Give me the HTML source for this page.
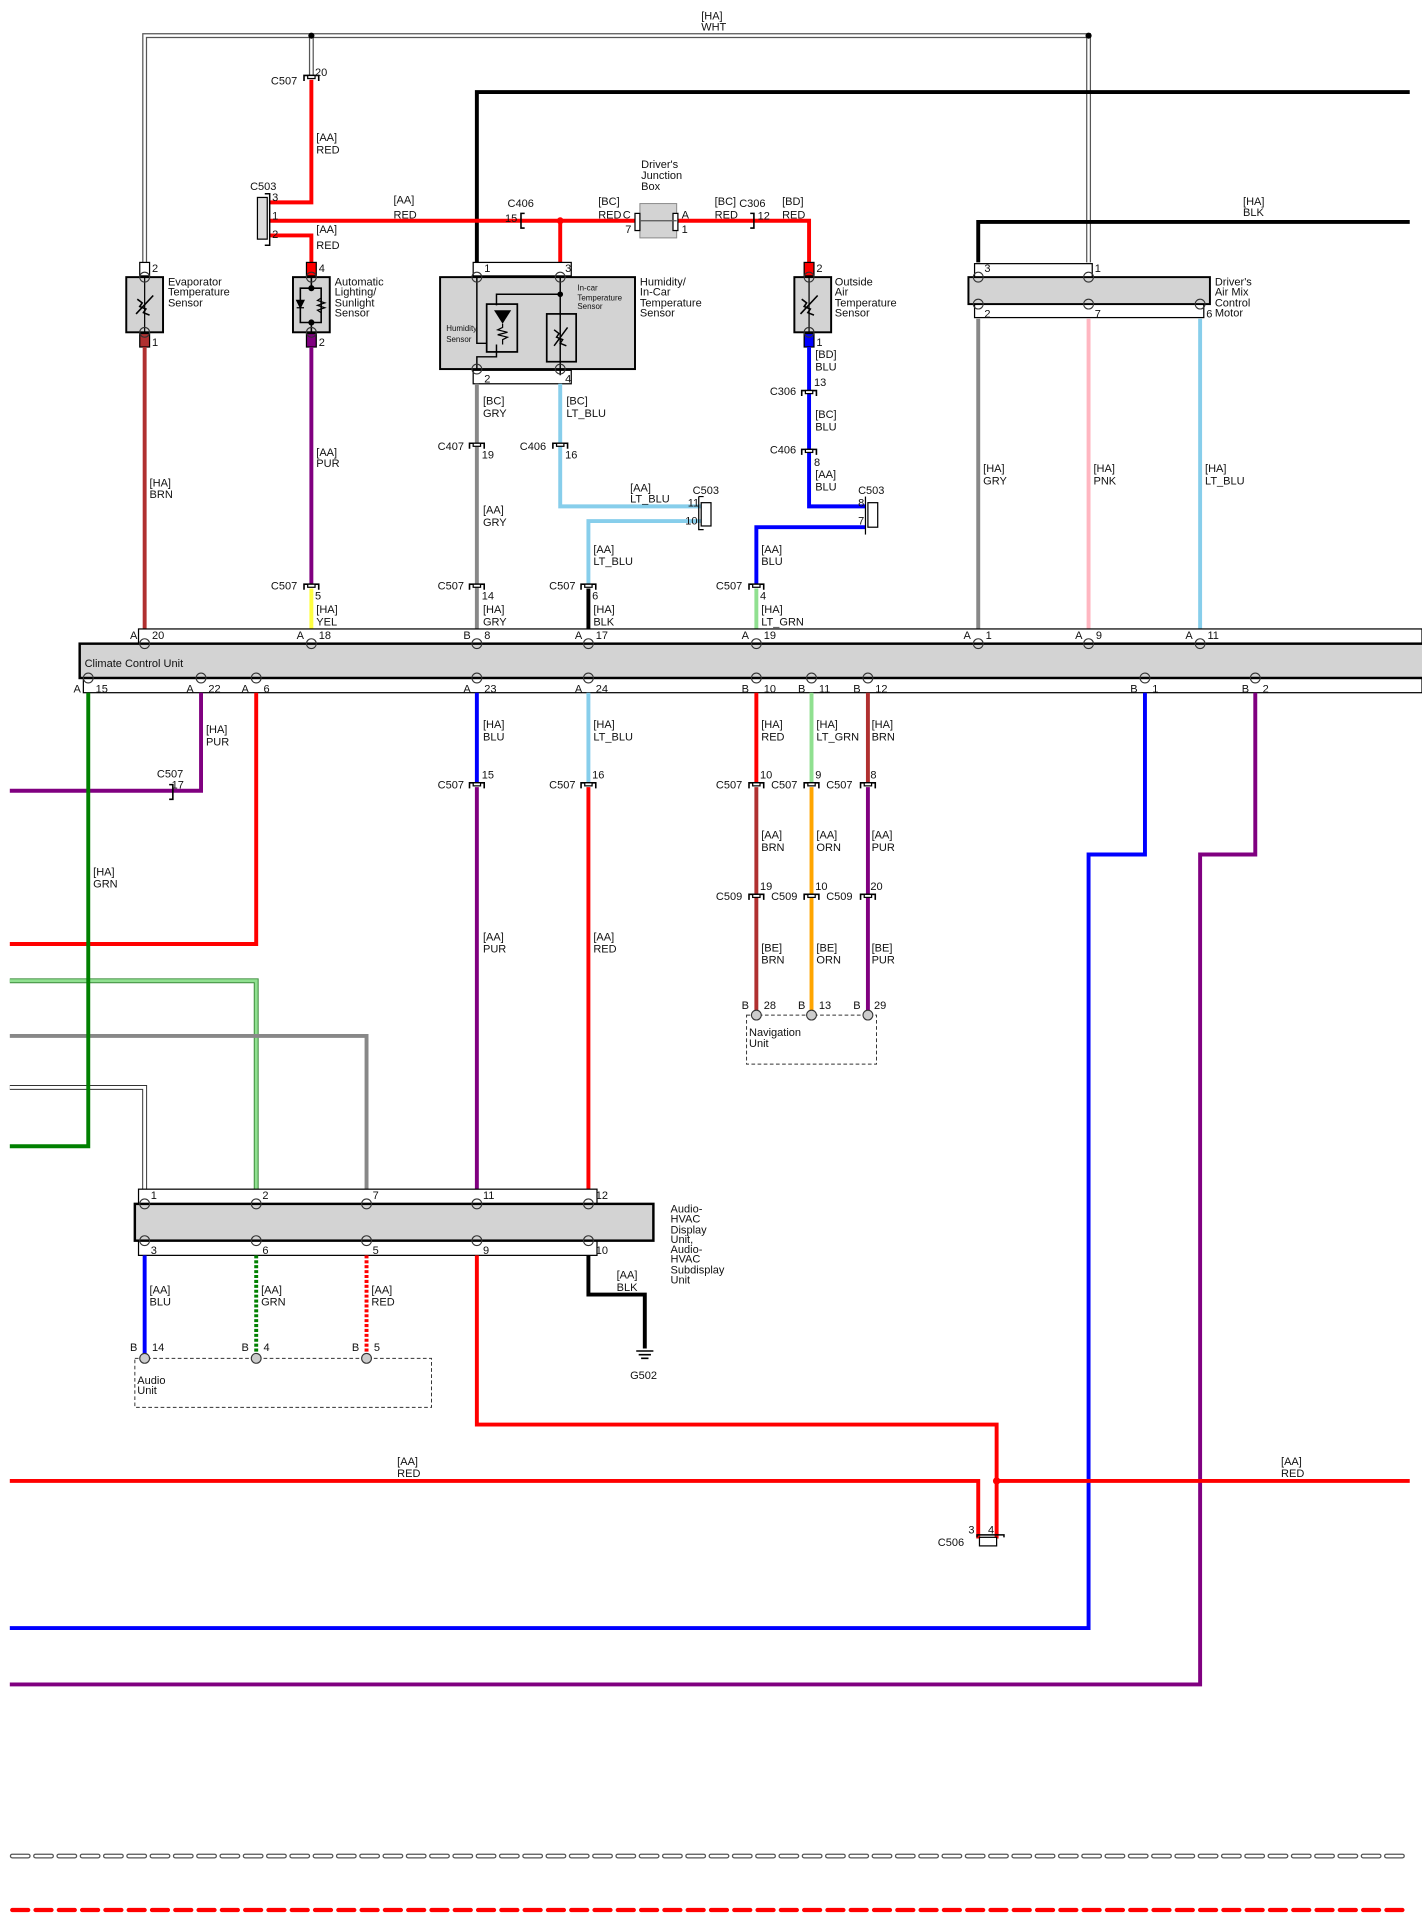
<!DOCTYPE html>
<html><head><meta charset="utf-8"><style>
html,body{margin:0;padding:0;background:#fff}
svg{display:block}
text{font-family:"Liberation Sans",Arial,sans-serif;font-size:9px;fill:#111}
.w{fill:none;stroke-width:3.2;stroke-linejoin:miter;stroke-linecap:butt}
</style></head><body>
<svg width="1422" height="1926" viewBox="0 0 1160 1571" xmlns="http://www.w3.org/2000/svg">
<defs>
<g id="cv"><path d="M-6,3 V-1.5 H6 V3" fill="none" stroke="#000" stroke-width="1.3"/><rect x="-3" y="-1.5" width="6" height="2.5" fill="#fff" stroke="#000" stroke-width="1"/></g>
<g id="pc"><circle r="4" fill="none" stroke="#333" stroke-width="0.9"/></g>
<g id="pg"><circle r="4" fill="#ccc" stroke="#333" stroke-width="0.9"/></g>
</defs>

<!-- WHT double line -->
<path d="M118,214 V29 H888 V214" fill="none" stroke="#555" stroke-width="4"/>
<path d="M118,214 V29 H888 V214" fill="none" stroke="#fff" stroke-width="2"/>
<path d="M254,29 V62" fill="none" stroke="#555" stroke-width="4"/>
<path d="M254,29 V62" fill="none" stroke="#fff" stroke-width="2"/>
<circle cx="254" cy="29" r="2.5"/><circle cx="888" cy="29" r="2.5"/>
<text x="572" y="16">[HA]</text><text x="572" y="25">WHT</text>

<!-- top black -->
<path class="w" d="M389,214 V75 H1150" stroke="#000" stroke-width="3.5"/>
<path class="w" d="M798,214 V181 H1150" stroke="#000" stroke-width="3.5"/>
<text x="1014" y="167">[HA]</text><text x="1014" y="176">BLK</text>

<!-- red lines -->
<path class="w" d="M254,65 V165 H220" stroke="#f00"/>
<path class="w" d="M220,192 H254 V214" stroke="#f00"/>
<path class="w" d="M220,180 H520" stroke="#f00"/>
<path class="w" d="M553,180 H660 V214" stroke="#f00"/>
<path class="w" d="M457,180 V214" stroke="#f00"/>
<circle cx="457" cy="180" r="2.8" fill="#f00"/>
<use href="#cv" x="254" y="63"/>
<text x="221" y="69">C507</text><text x="257" y="62">20</text>
<text x="258" y="115">[AA]</text><text x="258" y="125">RED</text>
<text x="258" y="190">[AA]</text><text x="258" y="203">RED</text>
<text x="321" y="166">[AA]</text><text x="321" y="178">RED</text>
<!-- C503 top -->
<rect x="210" y="161" width="8" height="34" fill="#ddd" stroke="#000" stroke-width="1"/>
<path d="M216,158 H220 V200 H216" fill="none" stroke="#000" stroke-width="1.2"/>
<text x="204" y="155">C503</text>
<text x="222" y="164">3</text><text x="222" y="179">1</text><text x="222" y="194">2</text>
<!-- C406 -->
<path d="M428,174 H425 V186 H428" fill="none" stroke="#000" stroke-width="1.3"/>
<text x="414" y="169">C406</text><text x="412" y="181">15</text>
<!-- junction box -->
<rect x="522" y="166" width="30" height="28" fill="#d3d3d3" stroke="#888" stroke-width="0.8"/>
<rect x="518" y="174" width="4" height="14" fill="#fff" stroke="#000"/>
<rect x="549" y="174" width="4" height="14" fill="#fff" stroke="#000"/>
<line x1="522" y1="180" x2="552" y2="180" stroke="#555" stroke-width="1"/>
<text x="523" y="137">Driver's</text><text x="523" y="146">Junction</text><text x="523" y="155">Box</text>
<text x="488" y="167">[BC]</text><text x="488" y="178">RED</text><text x="508" y="178">C</text><text x="510" y="190">7</text>
<text x="556" y="178">A</text><text x="556" y="190">1</text>
<path d="M612,174 H615 V186 H612" fill="none" stroke="#000" stroke-width="1.3"/>
<text x="583" y="167">[BC]</text><text x="583" y="178">RED</text><text x="603" y="169">C306</text><text x="618" y="179">12</text>
<text x="638" y="167">[BD]</text><text x="638" y="178">RED</text>

<!-- Evaporator sensor -->
<rect x="114" y="214" width="8" height="11" fill="#fff" stroke="#000"/>
<rect x="114" y="272" width="8" height="11" fill="#b03030" stroke="#000"/>
<rect x="103" y="226" width="30" height="45" fill="#d3d3d3" stroke="#000" stroke-width="1.6"/>
<line x1="118" y1="226" x2="118" y2="271" stroke="#000"/>
<path d="M111,256 L125,241 M112,244 l4,3 l-2,3 l5,2 l-2,3 l5,2" fill="none" stroke="#000" stroke-width="1.3"/>
<use href="#pc" x="118" y="226"/><use href="#pc" x="118" y="271"/>
<text x="124" y="222">2</text><text x="124" y="282">1</text>
<text x="137" y="233">Evaporator</text><text x="137" y="241">Temperature</text><text x="137" y="250">Sensor</text>

<!-- Auto lighting sensor -->
<rect x="250" y="214" width="8" height="11" fill="#f00" stroke="#000"/>
<rect x="250" y="272" width="8" height="11" fill="#800080" stroke="#000"/>
<rect x="239" y="226" width="30" height="45" fill="#d3d3d3" stroke="#000" stroke-width="1.6"/>
<path d="M254,226 V235 M254,263 V271 M245,235 H262 V263 H245 Z" fill="none" stroke="#000" stroke-width="1.3"/>
<circle cx="254" cy="235" r="2.5"/><circle cx="254" cy="263" r="2.5"/>
<path d="M242,245 H248 L245,251 Z M242,251 H248" fill="#000" stroke="#000"/>
<path d="M262,243 l-3,2 l6,2 l-6,2 l6,2 l-6,2 l3,2" fill="none" stroke="#000"/>
<use href="#pc" x="254" y="226"/><use href="#pc" x="254" y="271"/>
<text x="260" y="222">4</text><text x="260" y="282">2</text>
<text x="273" y="233">Automatic</text><text x="273" y="241">Lighting/</text><text x="273" y="250">Sunlight</text><text x="273" y="258">Sensor</text>

<!-- Humidity sensor -->
<rect x="386" y="214" width="80" height="11" fill="#fff" stroke="#000"/>
<rect x="386" y="302" width="80" height="11" fill="#fff" stroke="#000"/>
<rect x="359" y="226" width="159" height="75" fill="#d3d3d3" stroke="#000" stroke-width="1.6"/>
<path d="M389,226 V280 H397 M457,226 V306 M457,240 H405 V249 M405,281 V291 H389 V301" fill="none" stroke="#000" stroke-width="1.2"/>
<circle cx="457" cy="240" r="2.3"/>
<rect x="397" y="248" width="25" height="39" fill="none" stroke="#000" stroke-width="1.4"/>
<rect x="446" y="256" width="24" height="39" fill="none" stroke="#000" stroke-width="1.4"/>
<path d="M403,253 H417 L410,264 Z" fill="#000"/>
<path d="M410,264 v3 l-4,2 l8,2 l-8,2 l8,2 l-4,2 v4" fill="none" stroke="#000"/>
<path d="M452,282 L463,267 M452,269 l4,3 l-2,3 l5,2 l-2,3 l5,2" fill="none" stroke="#000" stroke-width="1.2"/>
<use href="#pc" x="389" y="226"/><use href="#pc" x="457" y="226"/><use href="#pc" x="389" y="301"/><use href="#pc" x="457" y="301"/>
<text x="395" y="222">1</text><text x="461" y="222">3</text><text x="395" y="312">2</text><text x="461" y="312">4</text>
<text x="364" y="270" style="font-size:6.5px">Humidity</text><text x="364" y="279" style="font-size:6.5px">Sensor</text>
<text x="471" y="237" style="font-size:6.5px">In-car</text><text x="471" y="245" style="font-size:6.5px">Temperature</text><text x="471" y="252" style="font-size:6.5px">Sensor</text>
<text x="522" y="233">Humidity/</text><text x="522" y="241">In-Car</text><text x="522" y="250">Temperature</text><text x="522" y="258">Sensor</text>

<!-- Outside sensor -->
<rect x="656" y="214" width="8" height="11" fill="#f00" stroke="#000"/>
<rect x="656" y="272" width="8" height="11" fill="#00f" stroke="#000"/>
<rect x="648" y="226" width="30" height="45" fill="#d3d3d3" stroke="#000" stroke-width="1.6"/>
<line x1="660" y1="226" x2="660" y2="271" stroke="#000"/>
<path d="M653,256 L667,241 M654,244 l4,3 l-2,3 l5,2 l-2,3 l5,2" fill="none" stroke="#000" stroke-width="1.3"/>
<use href="#pc" x="660" y="226"/><use href="#pc" x="660" y="271"/>
<text x="666" y="222">2</text><text x="666" y="282">1</text>
<text x="681" y="233">Outside</text><text x="681" y="241">Air</text><text x="681" y="250">Temperature</text><text x="681" y="258">Sensor</text>

<!-- Air mix motor -->
<rect x="795" y="215" width="96" height="11" fill="#fff" stroke="#000"/>
<rect x="795" y="248" width="187" height="11" fill="#fff" stroke="#000"/>
<rect x="790" y="226" width="197" height="22" fill="#d3d3d3" stroke="#000" stroke-width="1.6"/>
<use href="#pc" x="798" y="226"/><use href="#pc" x="888" y="226"/>
<use href="#pc" x="798" y="248"/><use href="#pc" x="888" y="248"/><use href="#pc" x="979" y="248"/>
<text x="803" y="222">3</text><text x="893" y="222">1</text>
<text x="803" y="259">2</text><text x="893" y="259">7</text><text x="984" y="259">6</text>
<text x="991" y="233">Driver's</text><text x="991" y="241">Air Mix</text><text x="991" y="250">Control</text><text x="991" y="258">Motor</text>

<!-- wires down to CCU -->
<path class="w" d="M118,283 V521" stroke="#b03030"/>
<text x="122" y="397">[HA]</text><text x="122" y="406">BRN</text>
<path class="w" d="M254,283 V476" stroke="#800080"/>
<path class="w" d="M254,480 V521" stroke="#ffff40"/>
<use href="#cv" x="254" y="478"/>
<text x="221" y="481">C507</text><text x="257" y="489">5</text>
<text x="258" y="372">[AA]</text><text x="258" y="381">PUR</text>
<text x="258" y="500">[HA]</text><text x="258" y="510">YEL</text>

<path class="w" d="M389,313 V521" stroke="#888"/>
<use href="#cv" x="389" y="363"/><use href="#cv" x="389" y="478"/>
<text x="394" y="330">[BC]</text><text x="394" y="340">GRY</text>
<text x="357" y="367">C407</text><text x="393" y="374">19</text>
<text x="394" y="419">[AA]</text><text x="394" y="429">GRY</text>
<text x="357" y="481">C507</text><text x="393" y="489">14</text>
<text x="394" y="500">[HA]</text><text x="394" y="510">GRY</text>

<path class="w" d="M457,313 V413 H572" stroke="#87ceeb"/>
<path class="w" d="M572,425 H480 V476" stroke="#87ceeb"/>
<path class="w" d="M480,480 V521" stroke="#000"/>
<use href="#cv" x="457" y="363"/><use href="#cv" x="480" y="478"/>
<text x="462" y="330">[BC]</text><text x="462" y="340">LT_BLU</text>
<text x="424" y="367">C406</text><text x="461" y="374">16</text>
<text x="514" y="401">[AA]</text><text x="514" y="410">LT_BLU</text>
<rect x="572" y="410" width="8" height="19" fill="#fff" stroke="#000"/>
<path d="M570,405 H574 M570,405 V432 H574" fill="none" stroke="#000"/>
<text x="565" y="403">C503</text><text x="561" y="413">11</text><text x="559" y="428">10</text>
<text x="484" y="451">[AA]</text><text x="484" y="461">LT_BLU</text>
<text x="448" y="481">C507</text><text x="483" y="489">6</text>
<text x="484" y="500">[HA]</text><text x="484" y="510">BLK</text>

<path class="w" d="M660,283 V413 H706" stroke="#00f"/>
<path class="w" d="M706,430 H617 V476" stroke="#00f"/>
<path class="w" d="M617,480 V521" stroke="#90e090"/>
<use href="#cv" x="660" y="320"/><use href="#cv" x="660" y="368"/><use href="#cv" x="617" y="478"/>
<text x="665" y="292">[BD]</text><text x="665" y="302">BLU</text>
<text x="664" y="315">13</text><text x="628" y="322">C306</text>
<text x="665" y="341">[BC]</text><text x="665" y="351">BLU</text>
<text x="628" y="370">C406</text><text x="664" y="380">8</text>
<text x="665" y="390">[AA]</text><text x="665" y="400">BLU</text>
<rect x="708" y="410" width="8" height="20" fill="#fff" stroke="#000"/>
<path d="M706,405 V436" fill="none" stroke="#000"/>
<text x="700" y="403">C503</text><text x="700" y="413">8</text><text x="700" y="428">7</text>
<text x="621" y="451">[AA]</text><text x="621" y="461">BLU</text>
<text x="584" y="481">C507</text><text x="620" y="489">4</text>
<text x="621" y="500">[HA]</text><text x="621" y="510">LT_GRN</text>

<path class="w" d="M798,260 V521" stroke="#888"/>
<path class="w" d="M888,260 V521" stroke="#ffb6c1"/>
<path class="w" d="M979,260 V521" stroke="#87ceeb"/>
<text x="802" y="385">[HA]</text><text x="802" y="395">GRY</text>
<text x="892" y="385">[HA]</text><text x="892" y="395">PNK</text>
<text x="983" y="385">[HA]</text><text x="983" y="395">LT_BLU</text>

<!-- CCU -->
<rect x="113" y="513" width="1047" height="12" fill="#fff" stroke="#000"/>
<rect x="68" y="553" width="1092" height="12" fill="#fff" stroke="#000"/>
<rect x="65" y="525" width="1100" height="28" fill="#d3d3d3" stroke="#000" stroke-width="2"/>
<text x="69" y="544">Climate Control Unit</text>
<g>
<use href="#pc" x="118" y="525"/><use href="#pc" x="254" y="525"/><use href="#pc" x="389" y="525"/><use href="#pc" x="480" y="525"/><use href="#pc" x="617" y="525"/><use href="#pc" x="798" y="525"/><use href="#pc" x="888" y="525"/><use href="#pc" x="979" y="525"/>
<use href="#pc" x="72" y="553"/><use href="#pc" x="164" y="553"/><use href="#pc" x="209" y="553"/><use href="#pc" x="389" y="553"/><use href="#pc" x="480" y="553"/><use href="#pc" x="617" y="553"/><use href="#pc" x="662" y="553"/><use href="#pc" x="708" y="553"/><use href="#pc" x="934" y="553"/><use href="#pc" x="1024" y="553"/>
</g>
<text x="106" y="521">A</text><text x="124" y="521">20</text>
<text x="242" y="521">A</text><text x="260" y="521">18</text>
<text x="378" y="521">B</text><text x="395" y="521">8</text>
<text x="469" y="521">A</text><text x="486" y="521">17</text>
<text x="605" y="521">A</text><text x="623" y="521">19</text>
<text x="786" y="521">A</text><text x="804" y="521">1</text>
<text x="877" y="521">A</text><text x="894" y="521">9</text>
<text x="967" y="521">A</text><text x="985" y="521">11</text>
<text x="60" y="565">A</text><text x="78" y="565">15</text>
<text x="152" y="565">A</text><text x="170" y="565">22</text>
<text x="197" y="565">A</text><text x="215" y="565">6</text>
<text x="378" y="565">A</text><text x="395" y="565">23</text>
<text x="469" y="565">A</text><text x="486" y="565">24</text>
<text x="605" y="565">B</text><text x="623" y="565">10</text>
<text x="651" y="565">B</text><text x="668" y="565">11</text>
<text x="696" y="565">B</text><text x="714" y="565">12</text>
<text x="922" y="565">B</text><text x="940" y="565">1</text>
<text x="1013" y="565">B</text><text x="1030" y="565">2</text>

<!-- below CCU left -->
<path class="w" d="M209,565 V770 H8" stroke="#f00"/>
<path class="w" d="M164,565 V645 H8" stroke="#800080"/>
<path d="M138,640 H141 V652 H138" fill="none" stroke="#000" stroke-width="1.3"/>
<text x="128" y="634">C507</text><text x="140" y="643">17</text>
<text x="168" y="598">[HA]</text><text x="168" y="608">PUR</text>
<path d="M8,800 H209 V980" fill="none" stroke="#3a8a3a" stroke-width="4"/>
<path d="M8,800 H209 V980" fill="none" stroke="#90e090" stroke-width="2.4"/>
<path class="w" d="M8,845 H299 V980" stroke="#888"/>
<path d="M8,887 H118 V980" fill="none" stroke="#333" stroke-width="4"/>
<path d="M8,887 H118 V980" fill="none" stroke="#fff" stroke-width="2.4"/>
<path class="w" d="M72,565 V935 H8" stroke="#008000"/>
<text x="76" y="714">[HA]</text><text x="76" y="724">GRN</text>

<path class="w" d="M389,565 V638" stroke="#00f"/>
<path class="w" d="M389,642 V980" stroke="#800080"/>
<use href="#cv" x="389" y="640"/>
<text x="394" y="594">[HA]</text><text x="394" y="604">BLU</text>
<text x="357" y="643">C507</text><text x="393" y="635">15</text>
<text x="394" y="767">[AA]</text><text x="394" y="777">PUR</text>
<path class="w" d="M480,565 V638" stroke="#87ceeb"/>
<path class="w" d="M480,642 V980" stroke="#f00"/>
<use href="#cv" x="480" y="640"/>
<text x="484" y="594">[HA]</text><text x="484" y="604">LT_BLU</text>
<text x="448" y="643">C507</text><text x="483" y="635">16</text>
<text x="484" y="767">[AA]</text><text x="484" y="777">RED</text>

<!-- nav wires -->
<path class="w" d="M617,565 V638" stroke="#f00"/>
<path class="w" d="M617,642 V828" stroke="#b03030"/>
<path class="w" d="M662,565 V638" stroke="#90e090"/>
<path class="w" d="M662,642 V828" stroke="#ffa500"/>
<path class="w" d="M708,565 V638" stroke="#b03030"/>
<path class="w" d="M708,642 V828" stroke="#800080"/>
<use href="#cv" x="617" y="640"/><use href="#cv" x="662" y="640"/><use href="#cv" x="708" y="640"/>
<use href="#cv" x="617" y="731"/><use href="#cv" x="662" y="731"/><use href="#cv" x="708" y="731"/>
<text x="621" y="594">[HA]</text><text x="621" y="604">RED</text>
<text x="666" y="594">[HA]</text><text x="666" y="604">LT_GRN</text>
<text x="711" y="594">[HA]</text><text x="711" y="604">BRN</text>
<text x="584" y="643">C507</text><text x="620" y="635">10</text>
<text x="629" y="643">C507</text><text x="665" y="635">9</text>
<text x="674" y="643">C507</text><text x="710" y="635">8</text>
<text x="621" y="684">[AA]</text><text x="621" y="694">BRN</text>
<text x="666" y="684">[AA]</text><text x="666" y="694">ORN</text>
<text x="711" y="684">[AA]</text><text x="711" y="694">PUR</text>
<text x="584" y="734">C509</text><text x="620" y="726">19</text>
<text x="629" y="734">C509</text><text x="665" y="726">10</text>
<text x="674" y="734">C509</text><text x="710" y="726">20</text>
<text x="621" y="776">[BE]</text><text x="621" y="786">BRN</text>
<text x="666" y="776">[BE]</text><text x="666" y="786">ORN</text>
<text x="711" y="776">[BE]</text><text x="711" y="786">PUR</text>
<text x="605" y="823">B</text><text x="623" y="823">28</text>
<text x="651" y="823">B</text><text x="668" y="823">13</text>
<text x="696" y="823">B</text><text x="713" y="823">29</text>
<rect x="609" y="828" width="106" height="40" fill="none" stroke="#333" stroke-dasharray="3,2" stroke-width="0.8"/>
<use href="#pg" x="617" y="828"/><use href="#pg" x="662" y="828"/><use href="#pg" x="708" y="828"/>
<text x="611" y="845">Navigation</text><text x="611" y="854">Unit</text>

<!-- right blue/purple -->
<path class="w" d="M934,565 V697 H888 V1328 H8" stroke="#00f"/>
<path class="w" d="M1024,565 V697 H979 V1374 H8" stroke="#800080"/>

<!-- Audio HVAC display -->
<rect x="113" y="970" width="374" height="12" fill="#fff" stroke="#000"/>
<rect x="113" y="1012" width="374" height="12" fill="#fff" stroke="#000"/>
<rect x="110" y="982" width="423" height="30" fill="#d3d3d3" stroke="#000" stroke-width="2"/>
<use href="#pc" x="118" y="982"/><use href="#pc" x="209" y="982"/><use href="#pc" x="299" y="982"/><use href="#pc" x="389" y="982"/><use href="#pc" x="480" y="982"/>
<use href="#pc" x="118" y="1012"/><use href="#pc" x="209" y="1012"/><use href="#pc" x="299" y="1012"/><use href="#pc" x="389" y="1012"/><use href="#pc" x="480" y="1012"/>
<text x="123" y="978">1</text><text x="214" y="978">2</text><text x="304" y="978">7</text><text x="394" y="978">11</text><text x="486" y="978">12</text>
<text x="123" y="1023">3</text><text x="214" y="1023">6</text><text x="304" y="1023">5</text><text x="394" y="1023">9</text><text x="486" y="1023">10</text>
<text x="547" y="989">Audio-</text><text x="547" y="997">HVAC</text><text x="547" y="1006">Display</text><text x="547" y="1014">Unit,</text><text x="547" y="1022">Audio-</text><text x="547" y="1030">HVAC</text><text x="547" y="1039">Subdisplay</text><text x="547" y="1047">Unit</text>

<path class="w" d="M118,1024 V1108" stroke="#00f"/>
<path class="w" d="M209,1024 V1108" stroke="#008000" stroke-dasharray="2.5,1.5"/>
<path class="w" d="M299,1024 V1108" stroke="#f00" stroke-dasharray="2.5,1.5"/>
<text x="122" y="1055">[AA]</text><text x="122" y="1065">BLU</text>
<text x="213" y="1055">[AA]</text><text x="213" y="1065">GRN</text>
<text x="303" y="1055">[AA]</text><text x="303" y="1065">RED</text>
<text x="106" y="1102">B</text><text x="124" y="1102">14</text>
<text x="197" y="1102">B</text><text x="215" y="1102">4</text>
<text x="287" y="1102">B</text><text x="305" y="1102">5</text>
<rect x="110" y="1108" width="242" height="40" fill="none" stroke="#333" stroke-dasharray="3,2" stroke-width="0.8"/>
<use href="#pg" x="118" y="1108"/><use href="#pg" x="209" y="1108"/><use href="#pg" x="299" y="1108"/>
<text x="112" y="1129">Audio</text><text x="112" y="1137">Unit</text>

<path class="w" d="M480,1024 V1056 H526 V1100" stroke="#000"/>
<path d="M519,1102 H533 M521,1105 H531 M523,1108 H529" stroke="#000" stroke-width="1.3"/>
<text x="514" y="1125">G502</text>
<text x="503" y="1043">[AA]</text><text x="503" y="1053">BLK</text>

<path class="w" d="M389,1024 V1162 H813 V1255" stroke="#f00"/>
<path class="w" d="M8,1208 H798 V1255" stroke="#f00"/>
<path class="w" d="M813,1208 H1150" stroke="#f00"/>
<circle cx="813" cy="1208" r="3" fill="#f00"/>
<text x="324" y="1195">[AA]</text><text x="324" y="1205">RED</text>
<text x="1045" y="1195">[AA]</text><text x="1045" y="1205">RED</text>
<path d="M797,1254 V1252 H819 V1254" fill="none" stroke="#000" stroke-width="1.2"/>
<rect x="799" y="1254" width="14" height="7" fill="#fff" stroke="#000"/>
<text x="765" y="1261">C506</text><text x="790" y="1251">3</text><text x="806" y="1251">4</text>

<!-- bottom dashed -->
<line x1="10" y1="1514" x2="1150" y2="1514" stroke="#555" stroke-width="4" stroke-dasharray="13,6" stroke-linecap="round"/>
<line x1="10" y1="1514" x2="1150" y2="1514" stroke="#fff" stroke-width="2" stroke-dasharray="13,6" stroke-linecap="round"/>
<line x1="10" y1="1558" x2="1150" y2="1558" stroke="#f00" stroke-width="3.5" stroke-dasharray="13,6" stroke-linecap="round"/>
</svg>
</body></html>
